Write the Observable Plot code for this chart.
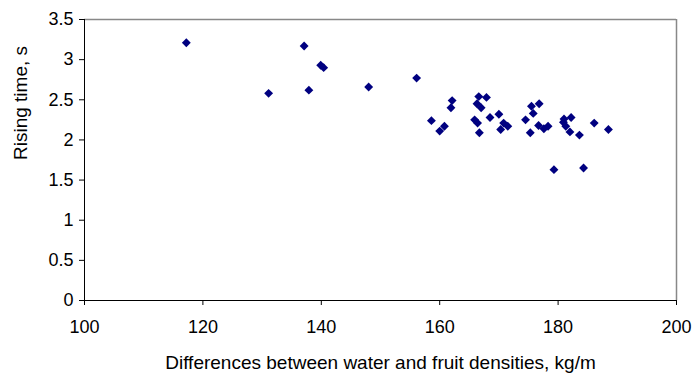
<!DOCTYPE html>
<html>
<head>
<meta charset="utf-8">
<script src="https://cdn.jsdelivr.net/npm/d3@7"></script>
<script src="https://cdn.jsdelivr.net/npm/@observablehq/plot@0.6"></script>
<style>
  html, body { margin: 0; padding: 0; background: #fff; }
  #chart { width: 692px; height: 374px; }
</style>
</head>
<body>
<div id="chart"></div>
<script>
// Data
const densityDiff = [
  117.2, 131.1, 137.1, 137.9, 139.9, 140.4, 148.0, 156.1, 158.6, 160.0,
  160.8, 161.9, 162.1, 165.9, 166.3, 166.4, 166.6, 166.7, 167.0, 167.9,
  168.5, 170.0, 170.3, 170.8, 171.5, 174.5, 175.3, 175.5, 175.8, 176.8,
  176.7, 177.6, 178.3, 179.3, 180.9, 181.0, 181.3, 182.0, 182.2, 183.6,
  184.3, 186.1, 188.5
];
const risingTime = [
  3.21, 2.58, 3.17, 2.62, 2.93, 2.90, 2.66, 2.77, 2.24, 2.11,
  2.17, 2.40, 2.49, 2.25, 2.45, 2.21, 2.54, 2.09, 2.40, 2.53,
  2.28, 2.32, 2.13, 2.21, 2.17, 2.25, 2.09, 2.42, 2.33, 2.45,
  2.18, 2.14, 2.17, 1.63, 2.22, 2.26, 2.17, 2.10, 2.28, 2.06,
  1.65, 2.21, 2.13
];
const xTicks = [100, 120, 140, 160, 180, 200];
const yTicks = [0, 0.5, 1, 1.5, 2, 2.5, 3, 3.5];
const xTitle = "Differences between water and fruit densities, kg/m";
const yTitle = "Rising time, s";

const points = densityDiff.map((x, i) => ({x, y: risingTime[i]}));
const font = "'Liberation Sans', Arial, sans-serif";

const chart = Plot.plot({
  width: 692,
  height: 374,
  marginLeft: 84,
  marginRight: 16,
  marginTop: 19,
  marginBottom: 74,
  style: {fontFamily: font, fontSize: "18px", color: "#000", background: "#fff"},
  x: {domain: [100, 200]},
  y: {domain: [0, 3.5]},
  marks: [
    Plot.ruleY([3.5], {stroke: "#888888", strokeWidth: 1.5}),
    Plot.ruleX([200], {stroke: "#888888", strokeWidth: 1.5}),
    Plot.ruleX([100], {stroke: "#000"}),
    Plot.ruleY([0], {stroke: "#000"}),
    Plot.axisX({ticks: xTicks, tickSize: 5, tickPadding: 15, label: null,
      tickFormat: d => String(d), fontSize: 18, stroke: "#000", fill: "#000"}),
    Plot.axisY({ticks: yTicks, tickSize: 5, tickPadding: 6, label: null,
      tickFormat: d => String(d), fontSize: 18, stroke: "#000", fill: "#000"}),
    Plot.text([xTitle], {frameAnchor: "bottom", dy: 68, lineAnchor: "bottom",
      fontSize: 19, fill: "#000"}),
    Plot.text([yTitle], {frameAnchor: "left", dx: -58, rotate: -90, lineAnchor: "bottom",
      fontSize: 19, fill: "#000"}),
    Plot.dot(points, {x: "x", y: "y", symbol: "diamond2", r: 4, fill: "#000080", stroke: "none"})
  ]
});
document.getElementById("chart").appendChild(chart);
</script>
</body>
</html>
